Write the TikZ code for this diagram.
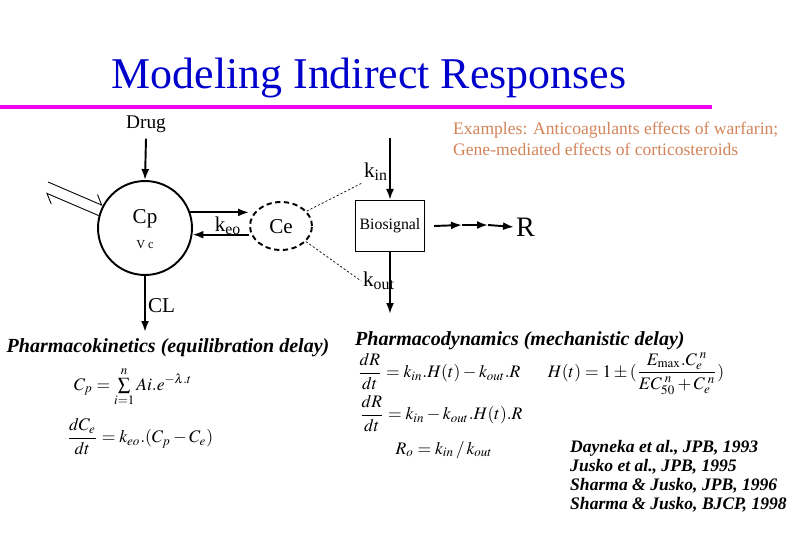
\documentclass[tikz,border=0pt]{standalone}
\usepackage{amsmath}
\usepackage{mathptmx}
\usepackage{fontspec}
\setmainfont{Liberation Serif}
\usepackage{xcolor}
\usetikzlibrary{positioning, arrows.meta, shapes.geometric}
\definecolor{TitleBlue}{HTML}{0000CC}
\definecolor{RuleMagenta}{HTML}{EE00EE}
\definecolor{NoteOrange}{HTML}{D2845A}

\begin{document}
\begin{tikzpicture}[x=0.02cm, y=-0.02cm,
            arrow/.style={-{Latex[length=2.2mm, width=1.6mm]}, line width=1.1pt},
            harp/.style={-{Straight Barb[harpoon, length=1.6mm]}, line width=0.5pt},
            comp/.style={draw, circle, line width=1.1pt, minimum size=1.88cm, inner sep=0pt},
            effect/.style={draw, ellipse, line width=1.1pt, dash pattern=on 3pt off 2pt, minimum width=1.24cm, minimum height=0.96cm, inner sep=0pt},
            signal/.style={draw, line width=0.6pt, minimum width=1.38cm, minimum height=1.02cm, inner sep=0pt, font=\fontsize{9}{10}\selectfont},
            link/.style={line width=0.4pt, dash pattern=on 1.2pt off 1.2pt},
            lbl/.style={font=\fontsize{12}{14}\selectfont, inner sep=1pt},
            head/.style={font=\fontsize{11.4}{14}\selectfont\bfseries\itshape},
            eq/.style={font=\fontsize{10}{12}\selectfont},
            note/.style={text=NoteOrange, align=left, font=\fontsize{10}{11.5}\selectfont},
            refs/.style={align=left, font=\fontsize{10}{10.9}\selectfont\bfseries\itshape}
        ]
            \useasboundingbox (0,0) rectangle (810,540);

            % Title
            \node[text=TitleBlue, font=\fontsize{25}{30}\selectfont] at (369,78) (title) {Modeling Indirect Responses};
            \draw[RuleMagenta, line width=2.2pt] (0,107) -- (712,107);

            \node[note, anchor=west] at (447,139) (examples) {Examples: Anticoagulants effects of warfarin;\\Gene-mediated effects of corticosteroids};

            % Pharmacokinetic part
            \node[font=\fontsize{11}{13}\selectfont] at (146,124) (drug) {Drug};
            \node[comp] at (145,228) (cp) {};
            \node[lbl] at (145,219) (cplbl) {Cp};
            \node[font=\fontsize{7}{8}\selectfont] at (145,245) (vc) {V c};
            \draw[arrow] (drug.south) -- (cp.north);

            \coordinate (inA) at (48,182);
            \coordinate (outB) at (46,193);
            \draw[harp] (inA) -- (cp.152);
            \draw[harp] (cp.165) -- (outB);

            \node[effect] at (281,226) (ce) {};
            \node[lbl] at (281,227) (celbl) {Ce};
            \draw[arrow] (cp.19) -- (cp.19 -| ce.west);
            \draw[arrow] (cp.-8 -| ce.west) -- (cp.-8);
            \node[lbl] at (228,226) (keo) {k\textsubscript{eo}};

            \coordinate (clend) at (145,332);
            \draw[arrow] (cp.south) -- (clend);
            \node[lbl, anchor=west] at (146,306) (cl) {CL};

            % Pharmacodynamic part
            \node[signal] at (390,226) (bio) {Biosignal};
            \coordinate (kintop) at (390,138);
            \coordinate (koutend) at (390,314);
            \draw[arrow] (kintop) -- (bio.north);
            \draw[arrow] (bio.south) -- (koutend);
            \node[lbl] at (376,172) (kin) {k\textsubscript{in}};
            \node[lbl] at (379,281) (kout) {k\textsubscript{out}};
            \draw[link] (ce.30) -- (kin.south west);
            \draw[link] (ce.-32) -- (kout.west);

            \coordinate (step1) at (462,225);
            \coordinate (step2) at (488,225);
            \node[font=\fontsize{16}{18}\selectfont, inner sep=1pt, anchor=west] at (514,227) (resp) {R};
            \draw[arrow] ([xshift=0.18cm]bio.east) -- (step1);
            \draw[arrow] (step1) -- (step2);
            \draw[arrow] (step2) -- (resp.west);

            % Equations
            \node[head] at (168,348) (pk) {Pharmacokinetics (equilibration delay)};
            \node[eq] at (133,387) (pkeq1) {$C_p=\sum\limits_{i=1}^{n}Ai.e^{-\lambda.t}$};
            \node[eq] at (140,437) (pkeq2) {$\dfrac{dC_e}{dt}=k_{eo}.(C_p-C_e)$};

            \node[head, anchor=west] at (349,341) (pd) {Pharmacodynamics (mechanistic delay)};
            \node[eq] at (439,372) (pdeq1) {$\dfrac{dR}{dt}=k_{in}.H(t)-k_{out}.R$};
            \node[eq] at (441,414) (pdeq2) {$\dfrac{dR}{dt}=k_{in}-k_{out}.H(t).R$};
            \node[eq] at (444,450) (ro) {$R_o=k_{in}\,/\,k_{out}$};
            \node[eq] at (636,374) (hfun) {$H(t)=1\pm(\dfrac{E_{\max}.C_e^{\;n}}{EC_{50}^{\;n}+C_e^{\;n}})$};

            \node[refs, anchor=north west] at (564,434) (cites) {Dayneka et al., JPB, 1993\\Jusko et al., JPB, 1995\\Sharma \& Jusko, JPB, 1996\\Sharma \& Jusko, BJCP, 1998};

        \end{tikzpicture}
\end{document}
